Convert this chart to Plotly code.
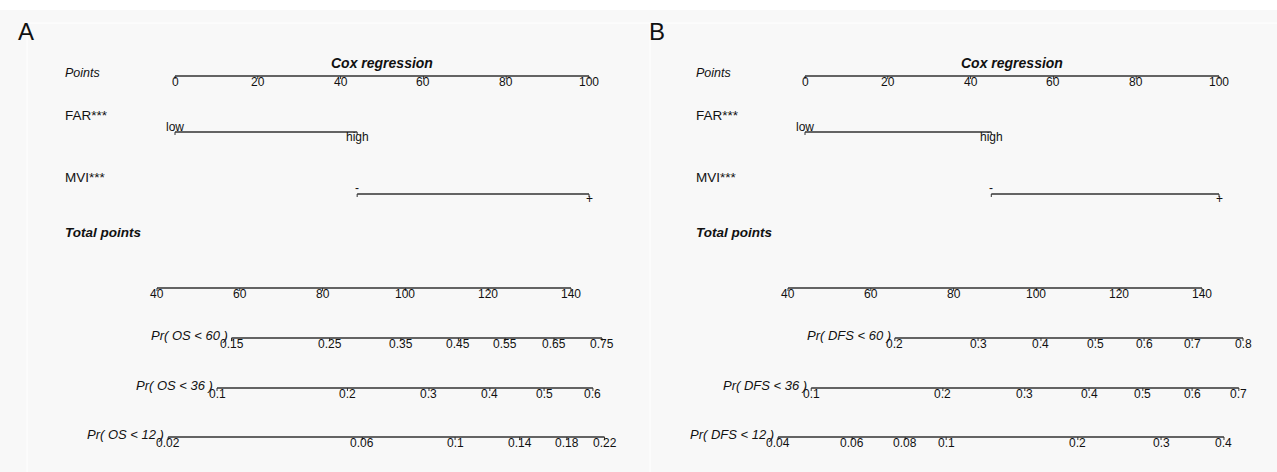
import plotly.graph_objects as go

# ---------------- data ----------------
POINTS_TICKS = [0, 20, 40, 60, 80, 100]
POINTS_LABELS = ["0", "20", "40", "60", "80", "100"]
TOTAL_TICKS = [40, 60, 80, 100, 120, 140]
TOTAL_LABELS = ["40", "60", "80", "100", "120", "140"]

FAR_LEVELS = ["low", "high"]
MVI_LEVELS = ["-", "+"]

# Panel A (OS)
A_FAR_POINTS = [0, 44]
A_MVI_POINTS = [44, 100]
A_OS60_LABELS = ["0.15", "0.25", "0.35", "0.45", "0.55", "0.65", "0.75"]
A_OS60_TOTAL = [58.0, 81.7, 98.9, 112.8, 124.1, 135.9, 147.5]
A_OS36_LABELS = ["0.1", "0.2", "0.3", "0.4", "0.5", "0.6"]
A_OS36_TOTAL = [54.5, 86.0, 105.7, 120.4, 133.5, 145.3]
A_OS12_LABELS = ["0.02", "0.06", "0.1", "0.14", "0.18", "0.22"]
A_OS12_TOTAL = [42.7, 89.6, 112.0, 127.6, 139.0, 148.1]

# Panel B (DFS)
B_FAR_POINTS = [0, 45]
B_MVI_POINTS = [45, 100]
B_DFS60_LABELS = ["0.2", "0.3", "0.4", "0.5", "0.6", "0.7", "0.8"]
B_DFS60_TOTAL = [65.8, 85.9, 101.1, 114.2, 126.0, 137.6, 149.9]
B_DFS36_LABELS = ["0.1", "0.2", "0.3", "0.4", "0.5", "0.6", "0.7"]
B_DFS36_TOTAL = [45.6, 77.4, 97.2, 112.7, 125.7, 137.6, 148.9]
B_DFS12_LABELS = ["0.04", "0.06", "0.08", "0.1", "0.2", "0.3", "0.4"]
B_DFS12_TOTAL = [37.6, 55.5, 68.3, 78.2, 110.0, 130.1, 145.3]

# ---------------- layout / style ----------------
W, H = 1277, 472
PX_PER_PT = 4.14
FONT = "Liberation Sans, Arial, Helvetica, sans-serif"
LINE_COLOR = "#333333"
TEXT_COLOR = "#111111"
TICK_LEN = 3
TICK_FONT = 12

ROW_Y = dict(points=76, far=132, mvi=194, total=288, p1=338, p2=388, p3=437)
LABEL_Y = dict(title=63, points=73, far=115, mvi=177, total=232)

PANELS = [
    dict(letter="A", zero_px=175, dom=(0.0, 0.5), total_offset=44.35, label_px=63,
         letter_px=16, xp="x", xt="x2",
         far=A_FAR_POINTS, mvi=A_MVI_POINTS,
         probs=[("Pr( OS < 60 )", A_OS60_LABELS, A_OS60_TOTAL),
                ("Pr( OS < 36 )", A_OS36_LABELS, A_OS36_TOTAL),
                ("Pr( OS < 12 )", A_OS12_LABELS, A_OS12_TOTAL)]),
    dict(letter="B", zero_px=805, dom=(0.5, 1.0), total_offset=44.1, label_px=694,
         letter_px=647, xp="x3", xt="x4",
         far=B_FAR_POINTS, mvi=B_MVI_POINTS,
         probs=[("Pr( DFS < 60 )", B_DFS60_LABELS, B_DFS60_TOTAL),
                ("Pr( DFS < 36 )", B_DFS36_LABELS, B_DFS36_TOTAL),
                ("Pr( DFS < 12 )", B_DFS12_LABELS, B_DFS12_TOTAL)]),
]

fig = go.Figure()


def add_scale(xref, values, labels, y, label_dy, size=TICK_FONT):
    fig.add_trace(go.Scatter(
        x=[min(values), max(values)], y=[y, y], mode="lines",
        line=dict(color=LINE_COLOR, width=1.3), xaxis=xref, yaxis="y",
        hoverinfo="skip", showlegend=False))
    tx, ty = [], []
    for v in values:
        tx += [v, v, None]
        ty += [y, y + TICK_LEN, None]
    fig.add_trace(go.Scatter(
        x=tx, y=ty, mode="lines", line=dict(color=LINE_COLOR, width=1),
        xaxis=xref, yaxis="y", hoverinfo="skip", showlegend=False))
    for i, (v, lab) in enumerate(zip(values, labels)):
        dy = label_dy[i] if isinstance(label_dy, (list, tuple)) else label_dy
        fig.add_annotation(x=v, y=y + dy, xref=xref, yref="y", text=lab,
                           showarrow=False, xanchor="center", yanchor="middle",
                           font=dict(size=size, color=TEXT_COLOR, family=FONT))


def text(x, y, s, size, xref="paper", xanchor="left", xshift=0):
    fig.add_annotation(x=x, y=y, xref=xref, yref="y", text=s, showarrow=False,
                       xanchor=xanchor, yanchor="middle", xshift=xshift,
                       font=dict(size=size, color=TEXT_COLOR, family=FONT))


axes = {}
for p in PANELS:
    lo = (p["dom"][0] * W - p["zero_px"]) / PX_PER_PT
    hi = (p["dom"][1] * W - p["zero_px"]) / PX_PER_PT
    p_name = "xaxis" if p["xp"] == "x" else "xaxis" + p["xp"][1:]
    t_name = "xaxis" + p["xt"][1:]
    hidden = dict(visible=False, showgrid=False, zeroline=False, fixedrange=True)
    axes[p_name] = dict(domain=list(p["dom"]), range=[lo, hi], anchor="y", **hidden)
    axes[t_name] = dict(domain=list(p["dom"]),
                        range=[lo + p["total_offset"], hi + p["total_offset"]],
                        overlaying=p["xp"], anchor="y", **hidden)

    lx = p["label_px"] / W
    # panel letter
    text(p["letter_px"] / W, 31, p["letter"], 24)
    # title
    fig.add_annotation(x=50, y=LABEL_Y["title"], xref=p["xp"], yref="y",
                       text="<b><i>Cox regression</i></b>", showarrow=False,
                       xanchor="center", yanchor="middle",
                       font=dict(size=14, color=TEXT_COLOR, family=FONT))
    # row labels
    text(lx, LABEL_Y["points"], "<i>Points</i>", 12.5)
    text(lx, LABEL_Y["far"], "FAR***", 13.5)
    text(lx, LABEL_Y["mvi"], "MVI***", 13.5)
    text(lx, LABEL_Y["total"], "<b><i>Total points</i></b>", 13.5)

    # scales
    add_scale(p["xp"], POINTS_TICKS, POINTS_LABELS, ROW_Y["points"], 6)
    add_scale(p["xp"], p["far"], FAR_LEVELS, ROW_Y["far"], [-5, 5])
    add_scale(p["xp"], p["mvi"], MVI_LEVELS, ROW_Y["mvi"], [-6, 5])
    add_scale(p["xt"], TOTAL_TICKS, TOTAL_LABELS, ROW_Y["total"], 6)
    for key, (name, labs, vals) in zip(["p1", "p2", "p3"], p["probs"]):
        add_scale(p["xt"], vals, labs, ROW_Y[key], 6)
        text(vals[0], ROW_Y[key] - 3, "<i>" + name + "</i>", 13,
             xref=p["xt"], xanchor="right", xshift=-2)

# background decorations
shapes = [
    dict(type="rect", xref="paper", yref="y", x0=0, x1=1, y0=0, y1=10,
         fillcolor="white", line=dict(width=0), layer="below"),
    dict(type="line", xref="paper", yref="y", x0=27 / W, x1=1, y0=23, y1=23,
         line=dict(color="#ffffff", width=1), layer="below"),
    dict(type="line", xref="paper", yref="y", x0=27 / W, x1=27 / W, y0=23, y1=H,
         line=dict(color="#ffffff", width=1), layer="below"),
    dict(type="line", xref="paper", yref="y", x0=650 / W, x1=650 / W, y0=23, y1=H,
         line=dict(color="#ffffff", width=1), layer="below"),
]

fig.update_layout(
    width=W, height=H,
    margin=dict(l=0, r=0, t=0, b=0, pad=0),
    paper_bgcolor="#f8f8f8", plot_bgcolor="rgba(0,0,0,0)",
    showlegend=False,
    yaxis=dict(domain=[0, 1], range=[H, 0], visible=False, showgrid=False,
               zeroline=False, fixedrange=True),
    shapes=shapes,
    **axes,
)

fig.write_html("out.html", config={"displayModeBar": False})
